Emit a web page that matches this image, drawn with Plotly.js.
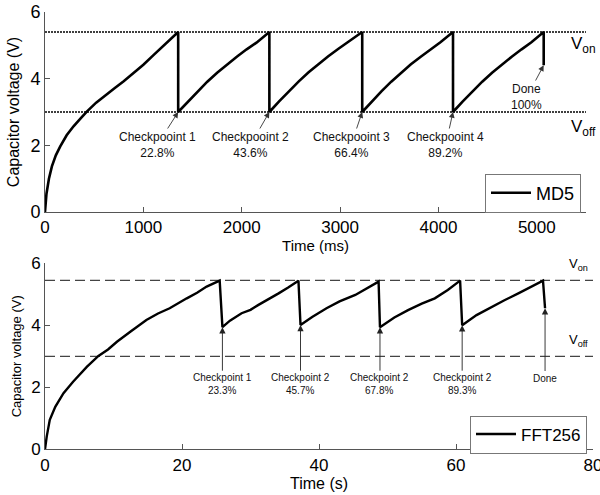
<!DOCTYPE html>
<html>
<head>
<meta charset="utf-8">
<script src="https://cdn.plot.ly/plotly-3.0.1.min.js"></script>
<style>html,body{margin:0;padding:0;background:#fff;}#chart{width:600px;height:495px;}</style>
</head>
<body>
<div id="chart"></div>
<script>
// ---------- Top panel: MD5 (time in ms) ----------
const md5Time = [0, 15, 40, 70, 110, 155, 220, 290, 360, 425, 520, 630, 710, 800, 900, 1000, 1100, 1200, 1290, 1354,
  1354, 1450, 1550, 1650, 1750, 1850, 1950, 2050, 2150, 2281,
  2281, 2380, 2480, 2580, 2680, 2780, 2880, 2980, 3080, 3225,
  3225, 3320, 3420, 3520, 3620, 3720, 3820, 3920, 4020, 4148,
  4148, 4245, 4345, 4445, 4545, 4645, 4745, 4845, 4945, 5070, 5070];
const md5Volt = [0, 0.55, 1.0, 1.37, 1.7, 1.97, 2.3, 2.57, 2.8, 3.01, 3.28, 3.52, 3.72, 3.92, 4.17, 4.42, 4.7, 4.98, 5.23, 5.4,
  3.0, 3.3, 3.62, 3.91, 4.18, 4.43, 4.66, 4.88, 5.08, 5.4,
  3.0, 3.32, 3.63, 3.92, 4.19, 4.44, 4.67, 4.89, 5.1, 5.4,
  3.0, 3.31, 3.62, 3.91, 4.18, 4.43, 4.66, 4.88, 5.09, 5.4,
  3.0, 3.31, 3.62, 3.91, 4.18, 4.43, 4.66, 4.88, 5.09, 5.4, 4.4];
const md5Von = 5.4, md5Voff = 3.0;
const md5XTicks = [0, 1000, 2000, 3000, 4000, 5000];
const md5CpTime = [1354, 2281, 3225, 4148, 5070];
const md5CpVolt = [3.0, 3.0, 3.0, 3.0, 4.4];
const md5CpLabels = ['Checkpooint 1<br>22.8%', 'Checkpooint 2<br>43.6%', 'Checkpooint 3<br>66.4%', 'Checkpooint 4<br>89.2%', 'Done<br>100%'];
const md5LabelTime = [1140, 2088, 3111, 4073, 4898];
const md5LabelVolt = [2.01, 2.01, 2.01, 2.01, 3.45];

// ---------- Bottom panel: FFT256 (time in s) ----------
const fftTime = [0, 0.25, 0.7, 1.5, 2.7, 4.1, 6.1, 7.8, 9.2, 10.5, 12.5, 14.8, 16.5, 18.2, 20.7, 22.2, 23.6, 25.5,
  25.9, 27.0, 28.7, 30.0, 31.1, 32.5, 34.1, 35.5, 37.0,
  37.3, 39.0, 41.1, 43.0, 45.3, 47.0, 48.7,
  48.9, 51.0, 53.0, 55.0, 56.9, 58.8, 60.6,
  60.9, 63.0, 65.2, 67.0, 69.1, 71.0, 72.7, 73.0];
const fftVolt = [0, 0.41, 0.95, 1.37, 1.81, 2.18, 2.66, 3.01, 3.22, 3.47, 3.8, 4.17, 4.38, 4.55, 4.87, 5.05, 5.25, 5.44,
  3.94, 4.15, 4.39, 4.5, 4.65, 4.82, 5.03, 5.22, 5.44,
  4.01, 4.27, 4.55, 4.77, 4.98, 5.2, 5.41,
  3.94, 4.25, 4.49, 4.7, 4.87, 5.14, 5.44,
  4.0, 4.33, 4.6, 4.8, 5.03, 5.25, 5.44, 4.55];
const fftVon = 5.45, fftVoff = 3.0;
const fftXTicks = [0, 20, 40, 60, 80];
const fftCpTime = [25.9, 37.3, 48.9, 60.9, 73.0];
const fftCpVolt = [3.94, 4.01, 3.94, 4.0, 4.55];
const fftCpLabels = ['Checkpoint 1<br>23.3%', 'Checkpoint 2<br>45.7%', 'Checkpoint 2<br>67.8%', 'Checkpoint 2<br>89.3%', 'Done'];
const fftLabelVolt = [2.1, 2.1, 2.1, 2.1, 2.3];

const yTicks = [0, 2, 4, 6];
const FONT = 'Liberation Sans, Arial, Helvetica, sans-serif';

const traces = [
  {x: [0, 5500], y: [md5Von, md5Von], xaxis: 'x', yaxis: 'y', mode: 'lines', showlegend: false, hoverinfo: 'skip',
   line: {color: '#000', width: 1.5, dash: '2px,1px'}},
  {x: [0, 5500], y: [md5Voff, md5Voff], xaxis: 'x', yaxis: 'y', mode: 'lines', showlegend: false, hoverinfo: 'skip',
   line: {color: '#000', width: 1.5, dash: '2px,1px'}},
  {x: md5Time, y: md5Volt, xaxis: 'x', yaxis: 'y', mode: 'lines', name: 'MD5', legend: 'legend',
   line: {color: '#000', width: 2.6}},
  {x: [0, 80], y: [fftVon, fftVon], xaxis: 'x2', yaxis: 'y2', mode: 'lines', showlegend: false, hoverinfo: 'skip',
   line: {color: '#444', width: 1.3, dash: '10px,5px'}},
  {x: [0, 80], y: [fftVoff, fftVoff], xaxis: 'x2', yaxis: 'y2', mode: 'lines', showlegend: false, hoverinfo: 'skip',
   line: {color: '#444', width: 1.3, dash: '10px,5px'}},
  {x: fftTime, y: fftVolt, xaxis: 'x2', yaxis: 'y2', mode: 'lines', name: 'FFT256', legend: 'legend2',
   line: {color: '#000', width: 2.4}}
];

const annotations = [];
md5CpTime.forEach((t, i) => {
  annotations.push({
    x: t, y: md5CpVolt[i], xref: 'x', yref: 'y',
    ax: md5LabelTime[i], ay: md5LabelVolt[i], axref: 'x', ayref: 'y',
    text: md5CpLabels[i], showarrow: true, arrowhead: 2, arrowsize: 1.3, arrowwidth: 0.9, arrowcolor: '#333',
    font: {family: FONT, size: 12, color: '#111'}, align: 'center'
  });
});
fftCpTime.forEach((t, i) => {
  annotations.push({
    x: t, y: fftCpVolt[i], xref: 'x2', yref: 'y2',
    ax: t, ay: fftLabelVolt[i], axref: 'x2', ayref: 'y2',
    text: fftCpLabels[i], showarrow: true, arrowhead: 2, arrowsize: 1.4, arrowwidth: 0.9, arrowcolor: '#222',
    font: {family: FONT, size: 10, color: '#111'}, align: 'center'
  });
});
// Von / Voff labels
annotations.push({x: 569/600, xref: 'paper', xanchor: 'left', y: 5.0, yref: 'y', text: 'V<sub>on</sub>', showarrow: false, font: {family: FONT, size: 17}});
annotations.push({x: 569/600, xref: 'paper', xanchor: 'left', y: 2.52, yref: 'y', text: 'V<sub>off</sub>', showarrow: false, font: {family: FONT, size: 17}});
annotations.push({x: 567/600, xref: 'paper', xanchor: 'left', y: 5.95, yref: 'y2', text: 'V<sub>on</sub>', showarrow: false, font: {family: FONT, size: 13}});
annotations.push({x: 567/600, xref: 'paper', xanchor: 'left', y: 3.52, yref: 'y2', text: 'V<sub>off</sub>', showarrow: false, font: {family: FONT, size: 13}});

const axCommon = {ticks: 'inside', ticklen: 5, tickcolor: '#555', showline: true, linecolor: '#555', linewidth: 1,
  showgrid: false, zeroline: false, automargin: false, ticklabeloverflow: 'allow'};

const layout = {
  width: 600, height: 495,
  margin: {l: 0, r: 0, t: 0, b: 0},
  paper_bgcolor: '#fff', plot_bgcolor: '#fff',
  font: {family: FONT, color: '#000'},
  showlegend: true,
  xaxis: Object.assign({}, axCommon, {domain: [45/600, 586/600], anchor: 'y', range: [0, 5500], tickvals: md5XTicks,
    tickfont: {size: 17}, title: {text: 'Time (ms)', font: {size: 15}, standoff: 1}}),
  yaxis: Object.assign({}, axCommon, {domain: [1 - 212/495, 1 - 12/495], anchor: 'x', range: [0, 6], tickvals: yTicks,
    tickfont: {size: 18}, title: {text: 'Capacitor voltage (V)', font: {size: 16}, standoff: 6}}),
  xaxis2: Object.assign({}, axCommon, {domain: [45/600, 593/600], anchor: 'y2', range: [0, 80], tickvals: fftXTicks,
    tickfont: {size: 17}, title: {text: 'Time (s)', font: {size: 16}, standoff: 0}}),
  yaxis2: Object.assign({}, axCommon, {domain: [1 - 449.3/495, 1 - 263.3/495], anchor: 'x2', range: [0, 6], tickvals: yTicks,
    tickfont: {size: 17}, title: {text: 'Capacitor voltage (V)', font: {size: 13}, standoff: 6}}),
  legend: {x: 581/600, y: 1 - 193/495, xanchor: 'right', yanchor: 'middle', bgcolor: '#fff', bordercolor: '#777', borderwidth: 1,
    font: {size: 18}, itemwidth: 40},
  legend2: {x: 587/600, y: 1 - 434.5/495, xanchor: 'right', yanchor: 'middle', bgcolor: '#fff', bordercolor: '#777', borderwidth: 1,
    font: {size: 17}, itemwidth: 40},
  annotations: annotations
};

Plotly.newPlot('chart', traces, layout, {staticPlot: true, displayModeBar: false});
</script>
</body>
</html>
